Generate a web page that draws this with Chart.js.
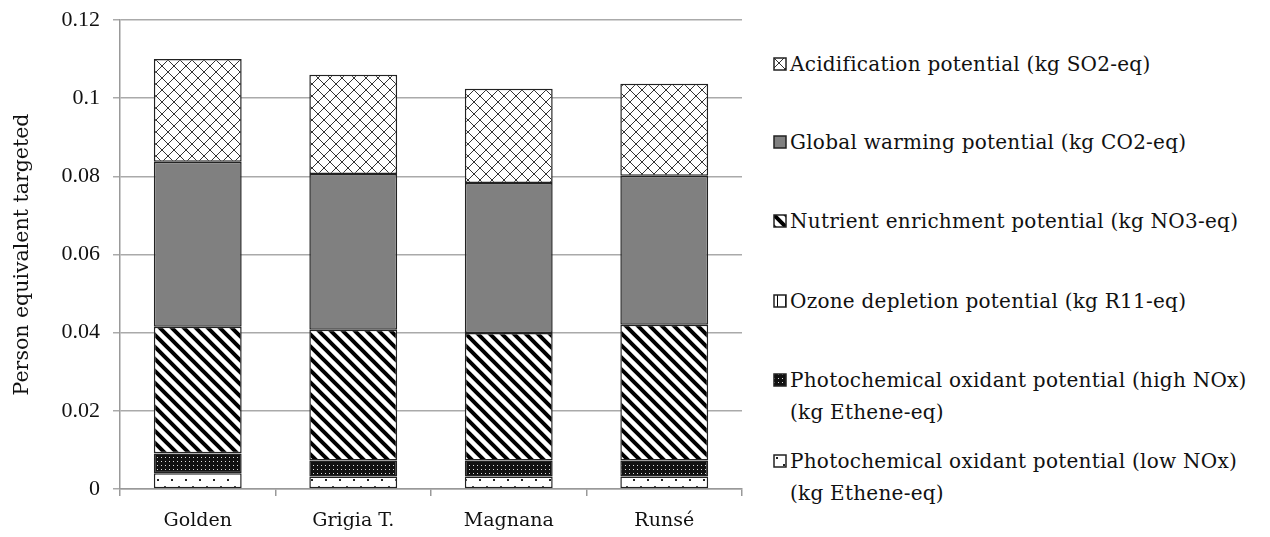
<!DOCTYPE html>
<html>
<head>
<meta charset="utf-8">
<script src="https://cdn.jsdelivr.net/npm/chart.js@4"></script>
<style>
  body { margin: 0; background: #fff; }
  #wrap { position: relative; width: 1270px; height: 537px; }
  #chartBox { position: absolute; left: 0; top: 0; width: 760px; height: 537px; }
  .leg { position: absolute; left: 773px; font-family: "DejaVu Serif", serif; font-size: 20px; letter-spacing: 0.25px; color: #111; line-height: 32px; white-space: nowrap; }
  .leg canvas { position: absolute; left: 0; top: 9px; }
  .leg span { display: block; margin-left: 17px; }
</style>
</head>
<body>
<div id="wrap">
  <div id="chartBox"><canvas id="lca"></canvas></div>
  <div id="legend"></div>
</div>
<script>
// data
const varieties = ["Golden", "Grigia T.", "Magnana", "Runsé"];
const lowNOx = [0.0040, 0.0032, 0.0032, 0.0032];
const highNOx = [0.0051, 0.0041, 0.0041, 0.0041];
const ozone = [0.00002, 0.00002, 0.00002, 0.00002];
const nutrient = [0.0324, 0.0334, 0.0326, 0.0347];
const warming = [0.0422, 0.0399, 0.0384, 0.0381];
const acidification = [0.0263, 0.0254, 0.0241, 0.0236];
const yTicks = [0, 0.02, 0.04, 0.06, 0.08, 0.1, 0.12];

// fill patterns like the excel ones
function pattern(size, draw) {
  const c = document.createElement("canvas");
  c.width = size; c.height = size;
  const g = c.getContext("2d");
  draw(g, size);
  return c;
}
const tiles = {
  acid: pattern(12, (g, s) => {
    g.fillStyle = "#fff"; g.fillRect(0, 0, s, s);
    g.strokeStyle = "#333"; g.lineWidth = 1;
    g.beginPath();
    g.moveTo(0, 0); g.lineTo(s, s);
    g.moveTo(s, 0); g.lineTo(0, s);
    g.stroke();
  }),
  gwp: pattern(4, (g, s) => { g.fillStyle = "#808080"; g.fillRect(0, 0, s, s); }),
  nutrient: pattern(12, (g, s) => {
    g.fillStyle = "#fff"; g.fillRect(0, 0, s, s);
    g.strokeStyle = "#000"; g.lineWidth = 4;
    g.beginPath();
    g.moveTo(-2, -2); g.lineTo(s + 2, s + 2);
    g.moveTo(-2, s - 2); g.lineTo(2, s + 2);
    g.moveTo(s - 2, -2); g.lineTo(s + 2, 2);
    g.stroke();
  }),
  ozone: pattern(8, (g, s) => {
    g.fillStyle = "#fff"; g.fillRect(0, 0, s, s);
    g.fillStyle = "#000"; g.fillRect(4, 0, 1, s);
  }),
  high: pattern(4, (g, s) => {
    g.fillStyle = "#111"; g.fillRect(0, 0, s, s);
    g.fillStyle = "#ddd"; g.fillRect(1, 1, 1, 1);
  }),
  low: pattern(14, (g, s) => {
    g.fillStyle = "#fff"; g.fillRect(0, 0, s, s);
    g.fillStyle = "#222";
    g.fillRect(3, 3, 2, 2);
    g.fillRect(10, 10, 2, 2);
  })
};

const ctx = document.getElementById("lca");
const c2d = ctx.getContext("2d");
const fill = t => c2d.createPattern(tiles[t], "repeat");

const series = [
  { label: "Photochemical oxidant potential (low NOx) (kg Ethene-eq)", data: lowNOx, tile: "low" },
  { label: "Photochemical oxidant potential (high NOx) (kg Ethene-eq)", data: highNOx, tile: "high" },
  { label: "Ozone depletion potential (kg R11-eq)", data: ozone, tile: "ozone" },
  { label: "Nutrient enrichment potential (kg NO3-eq)", data: nutrient, tile: "nutrient" },
  { label: "Global warming potential (kg CO2-eq)", data: warming, tile: "gwp" },
  { label: "Acidification potential (kg SO2-eq)", data: acidification, tile: "acid" }
];

new Chart(ctx, {
  type: "bar",
  data: {
    labels: varieties,
    datasets: series.map(s => ({
      label: s.label,
      data: s.data,
      backgroundColor: fill(s.tile),
      borderColor: "#222",
      borderWidth: 1.5,
      borderSkipped: false,
      categoryPercentage: 1,
      barPercentage: 0.565
    }))
  },
  options: {
    responsive: true,
    maintainAspectRatio: false,
    animation: false,
    layout: { padding: { top: 20, right: 18, left: 0, bottom: 0 } },
    plugins: { legend: { display: false }, tooltip: { enabled: false } },
    scales: {
      x: {
        stacked: true,
        grid: { display: true, drawOnChartArea: false, offset: true, color: "#999", tickLength: 7, lineWidth: 1.5 },
        border: { color: "#999", width: 1.5 },
        ticks: { color: "#111", font: { family: "DejaVu Serif", size: 19 }, padding: 14 },
        afterFit: s => { s.height = 48; }
      },
      y: {
        stacked: true,
        min: 0, max: 0.12,
        afterBuildTicks: s => { s.ticks = yTicks.map(v => ({ value: v })); },
        grid: { color: "#aaa", lineWidth: 1.5, tickLength: 7 },
        border: { color: "#999", width: 1.5 },
        ticks: { color: "#111", font: { family: "Liberation Serif", size: 22 }, padding: 13,
          callback: v => String(+v.toFixed(2)) },
        title: { display: true, text: "Person equivalent targeted", color: "#111",
          font: { family: "DejaVu Serif", size: 20.5 }, padding: { top: 10, bottom: 0 } },
        afterFit: s => { s.width = 120; s.paddingTop = 0; s.paddingBottom = 0; }
      }
    }
  }
});

// legend on the right, top item = last series
const legendRows = [
  { i: 5, top: 48, lines: ["Acidification potential (kg SO2-eq)"] },
  { i: 4, top: 126, lines: ["Global warming potential (kg CO2-eq)"] },
  { i: 3, top: 205, lines: ["Nutrient enrichment potential (kg NO3-eq)"] },
  { i: 2, top: 285, lines: ["Ozone depletion potential (kg R11-eq)"] },
  { i: 1, top: 364, lines: ["Photochemical oxidant potential (high NOx)", "(kg Ethene-eq)"] },
  { i: 0, top: 445, lines: ["Photochemical oxidant potential (low NOx)", "(kg Ethene-eq)"] }
];
const legend = document.getElementById("legend");
legendRows.forEach(r => {
  const d = document.createElement("div");
  d.className = "leg";
  d.style.top = r.top + "px";
  const sw = document.createElement("canvas");
  sw.width = 14; sw.height = 14;
  const g = sw.getContext("2d");
  g.fillStyle = g.createPattern(tiles[series[r.i].tile], "repeat");
  g.fillRect(1, 1, 12, 12);
  g.strokeStyle = "#222"; g.lineWidth = 1.5;
  g.strokeRect(1, 1, 12, 12);
  d.appendChild(sw);
  r.lines.forEach(t => {
    const sp = document.createElement("span");
    sp.textContent = t;
    d.appendChild(sp);
  });
  legend.appendChild(d);
});
</script>
</body>
</html>
